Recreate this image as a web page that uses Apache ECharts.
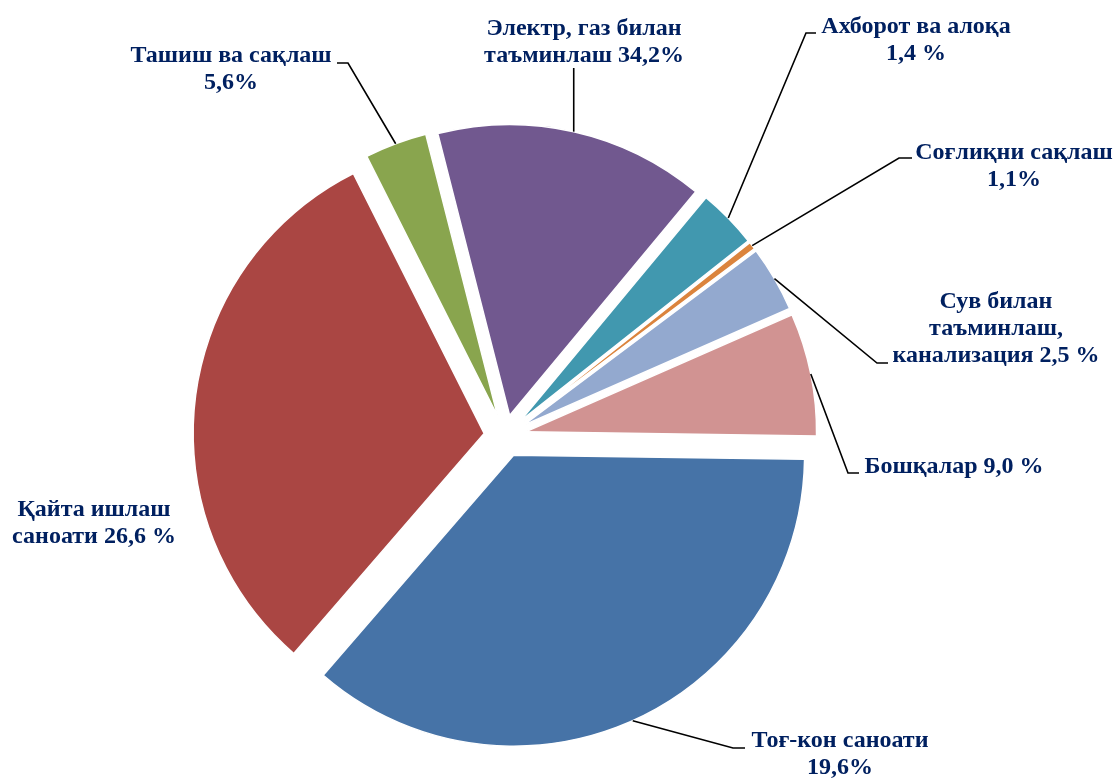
<!DOCTYPE html>
<html><head><meta charset="utf-8">
<script src="https://cdn.jsdelivr.net/npm/echarts@6/dist/echarts.min.js"></script>
<style>html,body{margin:0;padding:0;background:#fff}#chart{width:1114px;height:779px}</style>
</head><body><div id="chart"></div>
<script>
// ---- data ----
const categories = ['Тоғ-кон саноати', 'Қайта ишлаш саноати', 'Ташиш ва сақлаш', 'Электр, газ билан таъминлаш',
  'Ахборот ва алоқа', 'Соғлиқни сақлаш', 'Сув билан таъминлаш, канализация', 'Бошқалар'];
const labelTexts = ['Тоғ-кон саноати\n19,6%', 'Қайта ишлаш\nсаноати 26,6 %', 'Ташиш ва сақлаш\n5,6%',
  'Электр, газ билан\nтаъминлаш 34,2%', 'Ахборот ва алоқа\n1,4 %', 'Соғлиқни сақлаш\n1,1%',
  'Сув билан\nтаъминлаш,\nканализация 2,5 %', 'Бошқалар 9,0 %'];
// slice sizes as drawn in the picture (share of circle, %)
const sliceValues = [36.1, 31.2, 3.45, 15.0, 3.3, 0.42, 3.65, 6.8];
const sliceColors = ['#4673A7', '#AA4643', '#89A54E', '#71588F', '#4198AF', '#DB843D', '#93A9CF', '#D19392'];

// ---- layout (positions / styles) ----
const CENTER = [505, 436];
const RADIUS = 291;
const OFFSET = 21;
const START_ANGLE = -0.8; // echarts degrees (ccw from east)
const labelLayouts = [
  { pos: [840, 754], end: [745, 748], elbow: [733, 748] },
  { pos: [94, 523], end: null },
  { pos: [231, 69], end: [337, 63], elbow: [348, 63] },
  { pos: [584, 42], vertical: 68 },
  { pos: [916, 40], end: [816, 33], elbow: [806, 33] },
  { pos: [1014, 166], end: [912, 158], elbow: [899, 158] },
  { pos: [996, 329], end: [888, 363], elbow: [877, 363] },
  { pos: [954, 467], end: [859, 473], elbow: [848, 473] }
];
const TEXT_STYLE = { fontFamily: 'Liberation Serif', fontWeight: 'bold', fontSize: 24, lineHeight: 27, fill: '#002060' };

const total = sliceValues.reduce((a, b) => a + b, 0);
// point on the outer arc of exploded slice i, at its middle angle
function anchorOf(i) {
  let cum = 0;
  for (let k = 0; k < i; k++) cum += sliceValues[k];
  const startCw = -START_ANGLE;
  const mid = (startCw + (cum + sliceValues[i] / 2) / total * 360) * Math.PI / 180;
  return [CENTER[0] + Math.cos(mid) * (RADIUS + OFFSET), CENTER[1] + Math.sin(mid) * (RADIUS + OFFSET)];
}

const graphics = [];
labelLayouts.forEach((L, i) => {
  const a = anchorOf(i);
  let pts = null;
  if (L.vertical != null) pts = [a, [a[0], L.vertical]];
  else if (L.end) pts = [a, L.elbow, L.end];
  if (pts) {
    graphics.push({ type: 'polyline', z: 10, shape: { points: pts }, style: { stroke: '#000', lineWidth: 1.6, fill: null } });
  }
  graphics.push({
    type: 'text', z: 11, x: L.pos[0], y: L.pos[1],
    style: Object.assign({ text: labelTexts[i], align: 'center', verticalAlign: 'middle', textAlign: 'center', textVerticalAlign: 'middle' }, TEXT_STYLE)
  });
});

const chart = echarts.init(document.getElementById('chart'), null, { renderer: 'canvas' });
chart.setOption({
  backgroundColor: '#fff',
  animation: false,
  graphic: graphics,
  series: [{
    type: 'pie',
    center: CENTER,
    radius: [0, RADIUS],
    startAngle: START_ANGLE,
    clockwise: true,
    selectedMode: 'multiple',
    selectedOffset: OFFSET,
    emphasis: { disabled: true },
    itemStyle: { borderColor: '#fff', borderWidth: 1.5 },
    label: { show: false },
    labelLine: { show: false },
    data: sliceValues.map((v, i) => ({
      name: categories[i],
      value: v,
      selected: true,
      itemStyle: { color: sliceColors[i] }
    }))
  }]
});
</script></body></html>
